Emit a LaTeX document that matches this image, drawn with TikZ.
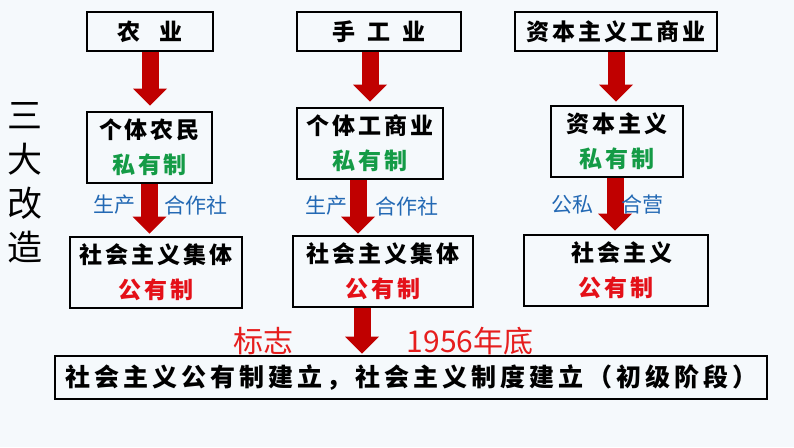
\documentclass[tikz,border=0pt]{standalone}
\usepackage{fontspec}
\usetikzlibrary{arrows.meta}
\newfontfamily\cjk{Noto Sans CJK SC}
\newfontfamily\cjkbox[LetterSpace=13]{Noto Sans CJK SC}
\newfontfamily\cjkwide[LetterSpace=16]{Noto Sans CJK SC}
\definecolor{bgblue}{RGB}{245,249,252}
\definecolor{arrowred}{RGB}{192,0,0}
\definecolor{sigreen}{RGB}{20,155,70}
\definecolor{gongred}{RGB}{228,16,24}
\definecolor{labblue}{RGB}{35,105,180}
\definecolor{markred}{RGB}{230,30,30}
\begin{document}
\begin{tikzpicture}[x=1pt, y={(0,-1pt)},
    box/.style={draw, line width=2.8pt, inner sep=0pt, align=center,
        font=\cjkbox\bfseries\fontsize{23}{35}\selectfont},
    bigarrow/.style={draw=arrowred, line width=17pt,
        -{Triangle[width=34pt, length=17pt, line width=0pt, fill=arrowred]}},
    lab/.style={text=labblue, font=\cjk\fontsize{21}{21}\selectfont, inner sep=0pt},
    marktext/.style={text=markred, font=\cjk\fontsize{30}{30}\selectfont, inner sep=0pt}]

    % 背景
    \fill[bgblue] (0,0) rectangle (794,447);

    % 左侧标题
    \node[align=center, font=\cjk\fontsize{35}{44}\selectfont, inner sep=0pt] (title) at (25,183) {三\\大\\改\\造};

    % 第一行
    \node[box, minimum width=126pt, minimum height=39pt] (nong) at (150,31.5) {农\hspace{19pt}业};
    \node[box, minimum width=164pt, minimum height=39pt] (shou) at (379,31.5) {手\hspace{12pt}工\hspace{12pt}业};
    \node[box, minimum width=202pt, minimum height=39pt] (ziben) at (616,31.5) {资本主义工商业};

    % 第二行
    \node[box, minimum width=125pt, minimum height=71pt] (geti1) at (149.5,147.5) {个体农民\\\textcolor{sigreen}{私有制}};
    \node[box, minimum width=146pt, minimum height=71pt] (geti2) at (370,143.5) {个体工商业\\\textcolor{sigreen}{私有制}};
    \node[box, minimum width=132pt, minimum height=71pt] (zbzy) at (617,141.5) {资本主义\\\textcolor{sigreen}{私有制}};

    % 第三行
    \node[box, minimum width=172pt, minimum height=71pt] (she1) at (156,272.5) {社会主义集体\\\textcolor{gongred}{公有制}};
    \node[box, minimum width=180pt, minimum height=71pt] (she2) at (383,271.5) {社会主义集体\\\textcolor{gongred}{公有制}};
    \node[box, minimum width=184pt, minimum height=71pt] (she3) at (616,270.5) {\hspace{12pt}社会主义\\\textcolor{gongred}{公有制}};

    % 结果
    \node[box, minimum width=712pt, minimum height=43pt, font=\cjkwide\bfseries\fontsize{25}{25}\selectfont] (jianli) at (411,377.5) {社会主义公有制建立，社会主义制度建立（初级阶段）};

    % 箭头
    \draw[bigarrow, shorten >=5pt] (nong.south) -- (nong.south |- geti1.north);
    \draw[bigarrow, shorten >=5pt] (geti2.center |- shou.south) -- (geti2.north);
    \draw[bigarrow, shorten >=3pt] (ziben.south) -- (ziben.south |- zbzy.north);
    \draw[bigarrow, shorten >=2pt] (geti1.south) -- (geti1.south |- she1.north);
    \draw[bigarrow, shorten >=1pt] ([xshift=-12pt]geti2.south) -- ([xshift=-12pt]geti2.south |- she2.north);
    \draw[bigarrow, shorten >=3pt] ([xshift=-2pt]zbzy.south) -- ([xshift=-2pt]zbzy.south |- she3.north);
    \draw[bigarrow, shorten >=1pt] ([xshift=-21pt]she2.south) -- ([xshift=-21pt]she2.south |- jianli.north);

    % 改造方式
    \node[lab] (sc1) at (114,205) {生产};
    \node[lab] (hz1) at (196,205) {合作社};
    \node[lab] (sc2) at (326,206) {生产};
    \node[lab] (hz2) at (407,206) {合作社};
    \node[lab] (gs) at (572,205) {公私};
    \node[lab] (hy) at (642,205) {合营};

    % 标志
    \node[marktext] (biaozhi) at (263,341) {标志};
    \node[marktext] (nian) at (470,341) {1956年底};
\end{tikzpicture}
\end{document}
